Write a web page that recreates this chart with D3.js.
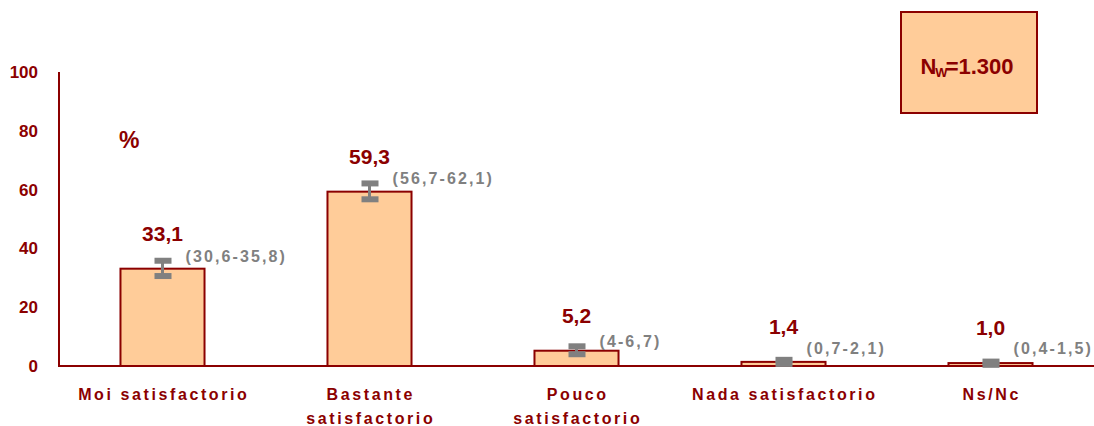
<!DOCTYPE html>
<html><head><meta charset="utf-8">
<script src="https://cdn.jsdelivr.net/npm/d3@7"></script>
<style>body{margin:0;background:#fff}svg{display:block}</style>
</head><body><svg id="c" width="1094" height="426"></svg>
<script>
const categories = [["Moi satisfactorio"],["Bastante","satisfactorio"],["Pouco","satisfactorio"],["Nada satisfactorio"],["Ns/Nc"]];
const values = [33.1, 59.3, 5.2, 1.4, 1.0];
const ciLow = [30.6, 56.7, 4, 0.7, 0.4];
const ciHigh = [35.8, 62.1, 6.7, 2.1, 1.5];
const yTicks = [0, 20, 40, 60, 80, 100];
const nLabel = "1.300";

const RED = "#8B0000", FILL = "#FFCC99", GREY = "#808080";
const svg = d3.select("#c");
const x = d3.scaleBand().domain(d3.range(values.length)).range([59, 1094]).paddingInner(0.594).paddingOuter(0.297);
const y = d3.scaleLinear().domain([0, 100]).range([366, 72]);
const fmt = v => String(v).replace(".", ",");

// y tick labels
const yAxis = d3.axisLeft(y).tickValues(yTicks).tickSize(0).tickPadding(21);
const ga = svg.append("g").attr("transform", "translate(59,0)").call(yAxis);
ga.select(".domain").remove();
ga.selectAll("text").attr("font-family", "Liberation Sans, Arial, sans-serif").attr("font-weight", "bold")
  .attr("font-size", 17).attr("fill", RED);

// bars
svg.append("g").selectAll("rect").data(values).join("rect")
  .attr("x", (d, i) => x(i)).attr("width", x.bandwidth())
  .attr("y", d => y(d)).attr("height", d => y(0) - y(d))
  .attr("fill", FILL).attr("stroke", RED).attr("stroke-width", 2);

// axes lines
svg.append("line").attr("x1", 59).attr("x2", 59).attr("y1", y(100)).attr("y2", y(0)).attr("stroke", RED).attr("stroke-width", 2);
svg.append("line").attr("x1", 58).attr("x2", 1094).attr("y1", y(0)).attr("y2", y(0)).attr("stroke", RED).attr("stroke-width", 2);

// error bars
const eg = svg.append("g");
values.forEach((v, i) => {
  const cx = x(i) + x.bandwidth() / 2;
  eg.append("line").attr("x1", cx).attr("x2", cx).attr("y1", y(ciHigh[i])).attr("y2", y(ciLow[i]))
    .attr("stroke", GREY).attr("stroke-width", 3);
  [ciLow[i], ciHigh[i]].forEach(c => {
    eg.append("rect").attr("x", cx - 8).attr("width", 17).attr("y", y(c) - 3).attr("height", 6).attr("fill", GREY);
  });
  eg.append("text").attr("x", cx + 23).attr("y", Math.min(y(ciHigh[i]) + 1, y(0) - 12))
    .attr("font-family", "Liberation Sans, Arial, sans-serif").attr("font-weight", "bold").attr("font-size", 16)
    .attr("letter-spacing", 2.1).attr("fill", GREY)
    .text("(" + fmt(ciLow[i]) + "-" + fmt(ciHigh[i]) + ")");
  svg.append("text").attr("x", cx).attr("y", y(v) - 28).attr("text-anchor", "middle")
    .attr("font-family", "Liberation Sans, Arial, sans-serif").attr("font-weight", "bold").attr("font-size", 21)
    .attr("fill", RED).text(v.toFixed(1).replace(".", ","));
});

// category labels
categories.forEach((lines, i) => {
  const cx = x(i) + x.bandwidth() / 2;
  const t = svg.append("text").attr("text-anchor", "middle")
    .attr("font-family", "Liberation Sans, Arial, sans-serif").attr("font-weight", "bold").attr("font-size", 16)
    .attr("letter-spacing", 2.6).attr("fill", RED);
  lines.forEach((l, k) => t.append("tspan").attr("x", cx + 1.3).attr("y", 400 + k * 24).text(l));
});

// percent sign
svg.append("text").attr("x", 119).attr("y", 148).attr("font-family", "Liberation Sans, Arial, sans-serif")
  .attr("font-weight", "bold").attr("font-size", 23).attr("fill", RED).text("%");

// N box
svg.append("rect").attr("x", 901).attr("y", 12).attr("width", 136).attr("height", 101)
  .attr("fill", FILL).attr("stroke", RED).attr("stroke-width", 2);
const nt = svg.append("text").attr("x", 967).attr("y", 74).attr("text-anchor", "middle")
  .attr("font-family", "Liberation Sans, Arial, sans-serif").attr("font-weight", "bold").attr("font-size", 22).attr("fill", RED);
nt.append("tspan").text("N");
nt.append("tspan").attr("font-size", 13).attr("dy", 3).attr("dx", -1).text("W");
nt.append("tspan").attr("dy", -3).attr("dx", -2).text("=" + nLabel);
</script></body></html>
